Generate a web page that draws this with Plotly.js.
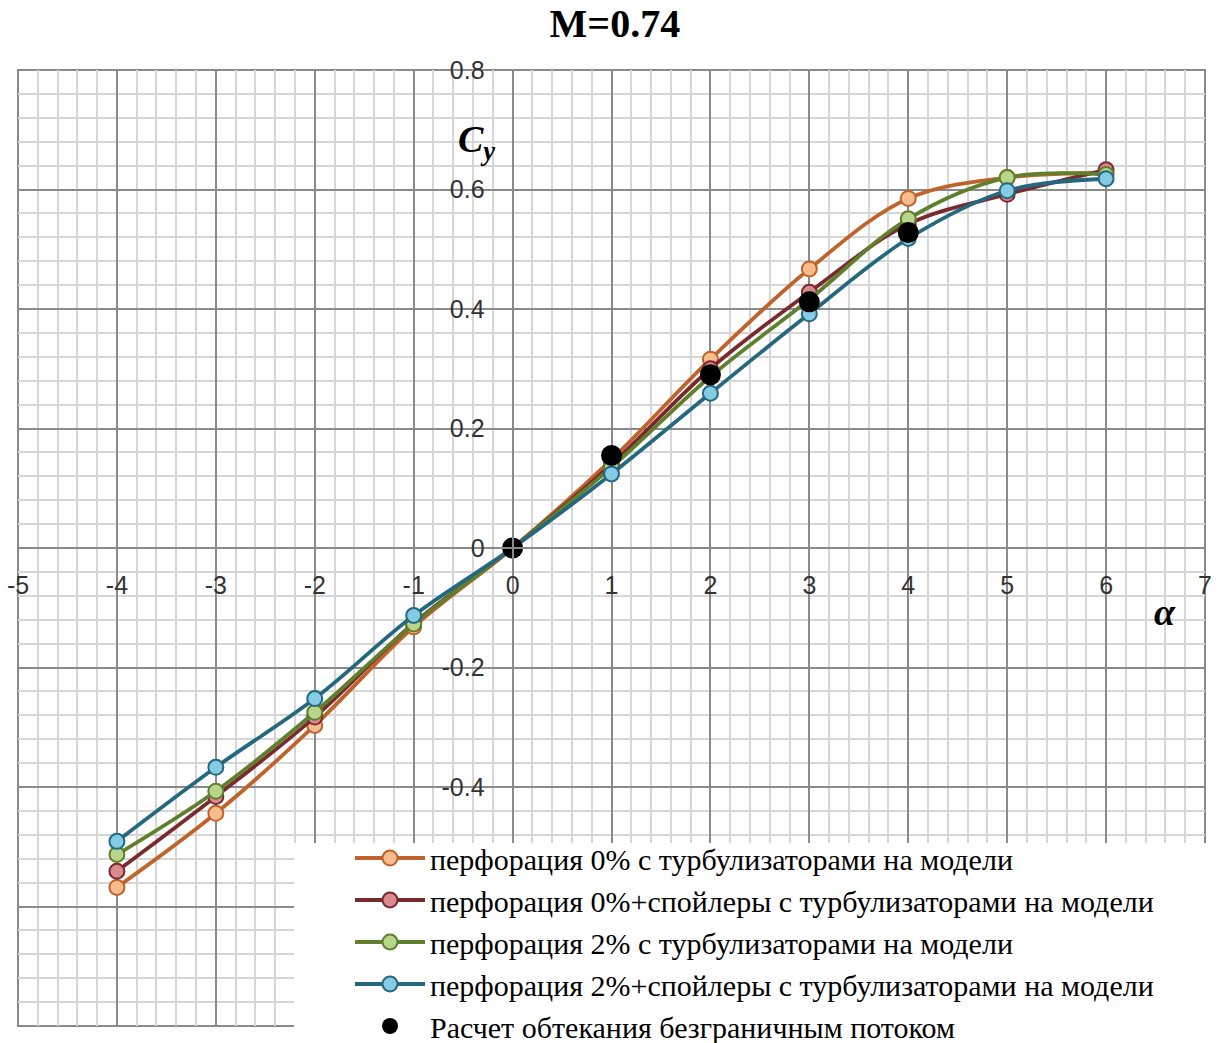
<!DOCTYPE html>
<html>
<head>
<meta charset="utf-8">
<script src="https://cdn.plot.ly/plotly-3.0.1.min.js"></script>
<style>html,body{margin:0;padding:0;background:#fff;}#chart{width:1220px;height:1043px;}</style>
</head>
<body>
<div id="chart"></div>
<script>
// ---- data ----
var alpha = [-4, -3, -2, -1, 0, 1, 2, 3, 4, 5, 6];
var perf0 = [-0.568, -0.444, -0.297, -0.132, 0, 0.148, 0.316, 0.467, 0.585, 0.620, 0.628];
var perf0Spoil = [-0.541, -0.416, -0.283, -0.126, 0, 0.140, 0.300, 0.428, 0.542, 0.592, 0.633];
var perf2 = [-0.513, -0.407, -0.275, -0.127, 0, 0.135, 0.287, 0.416, 0.551, 0.620, 0.625];
var perf2Spoil = [-0.491, -0.367, -0.252, -0.113, 0, 0.124, 0.259, 0.392, 0.518, 0.598, 0.618];
var calcAlpha = [0, 1, 2, 3, 4];
var calcCy = [0, 0.155, 0.290, 0.412, 0.528];

var seriesNames = [
  'перфорация 0% с турбулизаторами на модели',
  'перфорация 0%+спойлеры с турбулизаторами на модели',
  'перфорация 2% с турбулизаторами на модели',
  'перфорация 2%+спойлеры с турбулизаторами на модели',
  'Расчет обтекания безграничным потоком'
];
var xTickVals = [-5, -4, -3, -2, -1, 0, 1, 2, 3, 4, 5, 6, 7];
var xTickText = ['-5', '-4', '-3', '-2', '-1', '0', '1', '2', '3', '4', '5', '6', '7'];
var yTickVals = [-0.8, -0.6, -0.4, -0.2, 0, 0.2, 0.4, 0.6, 0.8];
// -0.8 and -0.6 labels are hidden behind the legend in the reference
var yTickText = ['', '', '-0.4', '-0.2', '0', '0.2', '0.4', '0.6', '0.8'];

// ---- styles ----
var lineColors = ['#c0632a', '#7a2a2e', '#5f7f2c', '#24687f'];
var fillColors = ['#f8bc8e', '#d98a8e', '#b7d68c', '#86cbe4'];
var ys = [perf0, perf0Spoil, perf2, perf2Spoil];

var traces = ys.map(function (y, i) {
  return {
    x: alpha, y: y, name: seriesNames[i], type: 'scatter', mode: 'lines+markers',
    legendgroup: 'g' + i,
    line: {color: lineColors[i], width: 3.8, shape: 'spline', smoothing: 1},
    marker: {size: 15, color: fillColors[i], line: {color: lineColors[i], width: 2}}
  };
});
traces.push({
  x: calcAlpha, y: calcCy, name: seriesNames[4], type: 'scatter', mode: 'markers',
  legendgroup: 'g4',
  marker: {size: 21, color: '#000000'}
});

var L = 18, R = 15, T = 70, B = 17, W = 1220, H = 1043;
var pw = W - L - R, ph = H - T - B;
function px(xp) { return (xp - L) / pw; }
function py(yp) { return (H - B - yp) / ph; }

var majorGrid = '#8a8a8a', minorGrid = '#d6d6d6';
var layout = {
  width: W, height: H,
  margin: {l: L, r: R, t: T, b: B, pad: 0, autoexpand: false},
  paper_bgcolor: '#ffffff', plot_bgcolor: '#ffffff',
  showlegend: true,
  title: {text: '<b>M=0.74</b>', x: 0.504, xanchor: 'center', y: 0.978, yanchor: 'middle',
          font: {family: 'Liberation Serif, Times New Roman, serif', size: 40, color: '#000'}},
  xaxis: {
    range: [-5, 7], anchor: 'free', position: 0.5,
    tickvals: xTickVals, ticktext: xTickText, ticks: '',
    ticklabelstandoff: 15,
    tickfont: {family: 'Liberation Sans, Arial, sans-serif', size: 25, color: '#333'},
    showgrid: true, gridcolor: majorGrid, gridwidth: 2,
    minor: {dtick: 0.2, tick0: 0, showgrid: true, gridcolor: minorGrid, gridwidth: 2, ticks: ''},
    zeroline: false, showline: true, linecolor: majorGrid, linewidth: 2
  },
  yaxis: {
    range: [-0.8, 0.8], anchor: 'free', position: 5 / 12,
    tickvals: yTickVals, ticktext: yTickText, ticks: '',
    ticklabelstandoff: 22,
    tickfont: {family: 'Liberation Sans, Arial, sans-serif', size: 25, color: '#333'},
    showgrid: true, gridcolor: majorGrid, gridwidth: 2,
    minor: {dtick: 0.04, tick0: 0, showgrid: true, gridcolor: minorGrid, gridwidth: 2, ticks: ''},
    zeroline: false, showline: true, linecolor: majorGrid, linewidth: 2
  },
  shapes: [
    {type: 'rect', xref: 'paper', yref: 'paper', x0: 0, x1: 1, y0: 0, y1: 1,
     line: {color: majorGrid, width: 2}, fillcolor: 'rgba(0,0,0,0)', layer: 'below'},
    {type: 'rect', xref: 'paper', yref: 'paper', x0: px(294), x1: px(1225), y0: py(1050), y1: py(843),
     line: {width: 0}, fillcolor: '#ffffff', layer: 'above'}
  ],
  annotations: [
    {text: '<b><i>C<sub>y</sub></i></b>', xref: 'paper', yref: 'paper', x: px(476), y: py(142),
     showarrow: false, xanchor: 'center', yanchor: 'middle',
     font: {family: 'Liberation Serif, Times New Roman, serif', size: 38, color: '#000'}},
    {text: '<b><i>α</i></b>', xref: 'paper', yref: 'paper', x: px(1165), y: py(612),
     showarrow: false, xanchor: 'center', yanchor: 'middle',
     font: {family: 'Liberation Serif, Times New Roman, serif', size: 38, color: '#000'}}
  ],
  legend: {
    x: px(350), xanchor: 'left', y: py(832), yanchor: 'top',
    bgcolor: 'rgba(255,255,255,0)', borderwidth: 0, itemwidth: 70,
    traceorder: 'grouped', tracegroupgap: 0,
    font: {family: 'Liberation Serif, Times New Roman, serif', size: 30, color: '#000'}
  }
};

Plotly.newPlot('chart', traces, layout, {displayModeBar: false, staticPlot: true});
</script>
</body>
</html>
